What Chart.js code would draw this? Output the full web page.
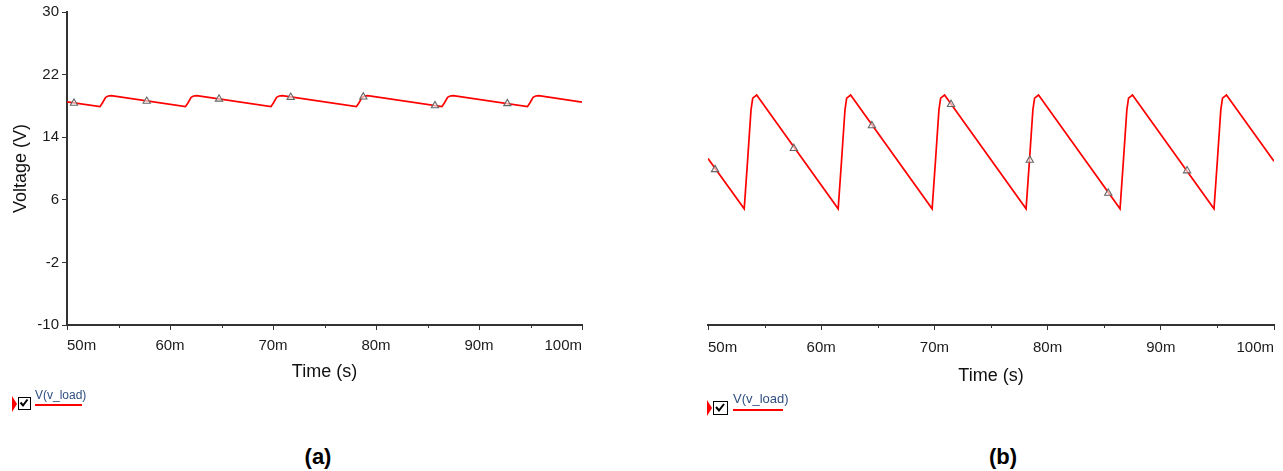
<!DOCTYPE html>
<html>
<head>
<meta charset="utf-8">
<script src="https://cdn.jsdelivr.net/npm/chart.js@4.4.1/dist/chart.umd.min.js"></script>
<style>
  html, body { margin: 0; padding: 0; background: #fff; width: 1283px; height: 471px; overflow: hidden;
    font-family: 'Liberation Sans', Arial, sans-serif; }
  .wrap { position: absolute; top: 0; }
  .mark { position: absolute; width: 0; height: 0; border-top: 8px solid transparent;
    border-bottom: 8px solid transparent; border-left: 5px solid #ff0000; }
  .box { position: absolute; box-sizing: border-box; border: 1.5px solid #000; background: #fff; }
  .box svg { position: absolute; left: 0; top: 0; }
  .ltext { position: absolute; color: #2f4f80; white-space: nowrap; }
  .uline { position: absolute; height: 1.5px; background: #ff0000; }
  .cap { position: absolute; font-weight: bold; font-size: 22px; color: #000; transform: translateX(-50%); }
</style>
</head>
<body>
<div class="wrap" style="left:0;width:640px;height:400px"><canvas id="chartA" width="640" height="400"></canvas></div>
<div class="wrap" style="left:640px;width:643px;height:400px"><canvas id="chartB" width="643" height="400"></canvas></div>

<!-- legend (a) -->
<div class="mark" style="left:12px;top:396px"></div>
<div class="box" style="left:18px;top:397px;width:13px;height:13px">
  <svg width="10" height="10" viewBox="0 0 10 10"><polyline points="1.5,4.5 4,7.5 8.5,1.5" fill="none" stroke="#000" stroke-width="2"/></svg>
</div>
<div class="ltext" style="left:35px;top:388px;font-size:12px">V(v_load)</div>
<div class="uline" style="left:35px;top:404px;width:47px"></div>

<!-- legend (b) -->
<div class="mark" style="left:707px;top:400px"></div>
<div class="box" style="left:713px;top:401px;width:15px;height:14px">
  <svg width="12" height="11" viewBox="0 0 12 11"><polyline points="2,5 5,8.5 10,2" fill="none" stroke="#000" stroke-width="2"/></svg>
</div>
<div class="ltext" style="left:733px;top:391px;font-size:13px">V(v_load)</div>
<div class="uline" style="left:733px;top:409px;width:50px"></div>

<div class="cap" style="left:318px;top:444px">(a)</div>
<div class="cap" style="left:1003px;top:444px">(b)</div>

<script>
// Time axis (ms) and voltage axis ticks
const majorTimes = [50, 60, 70, 80, 90, 100];
const minorTimes = [55, 65, 75, 85, 95];
const voltTicks = [-10, -2, 6, 14, 22, 30];

// (a) load voltage, small ripple
const timeA = [50.0,
  53.2, 53.45, 53.75, 54.0, 54.3,
  61.5, 61.75, 62.05, 62.3, 62.6,
  69.8, 70.05, 70.35, 70.6, 70.9,
  78.1, 78.35, 78.65, 78.9, 79.2,
  86.4, 86.65, 86.95, 87.2, 87.5,
  94.7, 94.95, 95.25, 95.5, 95.8,
  100.0];
const voltA = [18.52,
  17.9, 18.4, 19.1, 19.27, 19.3,
  17.9, 18.4, 19.1, 19.27, 19.3,
  17.9, 18.4, 19.1, 19.27, 19.3,
  17.9, 18.4, 19.1, 19.27, 19.3,
  17.9, 18.4, 19.1, 19.27, 19.3,
  17.9, 18.4, 19.1, 19.27, 19.3,
  18.48];
const markTimeA = [50.68, 57.74, 64.76, 71.72, 78.77, 85.73, 92.75];
const markVoltA = [18.35, 18.6, 18.88, 19.1, 19.15, 18.03, 18.3];

// (b) load voltage, large ripple
const timeB = [50.0,
  53.2, 53.5, 53.8, 53.95, 54.3,
  61.5, 61.8, 62.1, 62.25, 62.6,
  69.8, 70.1, 70.4, 70.55, 70.9,
  78.1, 78.4, 78.7, 78.85, 79.2,
  86.4, 86.7, 87.0, 87.15, 87.5,
  94.7, 95.0, 95.3, 95.45, 95.8,
  100.0];
const voltB = [11.2,
  4.8, 11.0, 17.4, 18.9, 19.3,
  4.8, 11.0, 17.4, 18.9, 19.3,
  4.8, 11.0, 17.4, 18.9, 19.3,
  4.8, 11.0, 17.4, 18.9, 19.3,
  4.8, 11.0, 17.4, 18.9, 19.3,
  4.8, 11.0, 17.4, 18.9, 19.3,
  10.85];
const markTimeB = [50.62, 57.58, 64.48, 71.47, 78.43, 85.36, 92.32];
const markVoltB = [9.8, 12.5, 15.4, 18.1, 11.0, 6.8, 9.65];

const FONT = "'Liberation Sans', Arial, sans-serif";
const AXIS = '#333333';

const zip = (xs, ys) => xs.map((x, i) => ({ x: x, y: ys[i] }));

// short tick marks halfway between the labelled times
const minorTickPlugin = {
  id: 'minorTicks',
  afterDraw(chart) {
    const s = chart.scales.x, ctx = chart.ctx;
    ctx.save();
    ctx.strokeStyle = AXIS;
    ctx.lineWidth = 1;
    minorTimes.forEach(v => {
      const x = Math.round(s.getPixelForValue(v)) + 0.5;
      ctx.beginPath();
      ctx.moveTo(x, s.top);
      ctx.lineTo(x, s.top + 3);
      ctx.stroke();
    });
    ctx.restore();
  }
};

function makeChart(id, times, volts, mTimes, mVolts, opt) {
  return new Chart(document.getElementById(id), {
    type: 'line',
    data: {
      datasets: [
        {
          data: zip(times, volts),
          borderColor: '#ff0000',
          borderWidth: 1.7,
          pointRadius: 0,
          tension: 0,
          fill: false,
          order: 2
        },
        {
          data: zip(mTimes, mVolts),
          showLine: false,
          pointStyle: 'triangle',
          pointRadius: 4.2,
          pointBorderColor: '#666666',
          pointBackgroundColor: 'rgba(255,255,255,0.6)',
          pointBorderWidth: 1.1,
          order: 1
        }
      ]
    },
    options: {
      responsive: false,
      animation: false,
      events: [],
      layout: { padding: opt.padding },
      plugins: { legend: { display: false }, tooltip: { enabled: false } },
      scales: {
        x: {
          type: 'linear',
          min: 50,
          max: 100,
          afterBuildTicks: s => { s.ticks = majorTimes.map(v => ({ value: v })); },
          afterFit: s => { s.height = opt.xHeight; },
          border: { display: true, color: AXIS, width: 2 },
          grid: { display: true, drawOnChartArea: false, drawTicks: true, tickLength: 5, tickColor: AXIS, tickWidth: 1 },
          ticks: {
            autoSkip: false, maxRotation: 0, align: 'inner', padding: opt.xTickPad,
            color: '#1a1a1a', font: { family: FONT, size: 15 },
            callback: v => v + 'm'
          },
          title: {
            display: true, text: 'Time (s)', color: '#111',
            font: { family: FONT, size: 18 }, padding: { top: 0, bottom: 0 }
          }
        },
        y: {
          type: 'linear',
          display: opt.showY,
          min: -10,
          max: 30,
          afterBuildTicks: s => { s.ticks = voltTicks.map(v => ({ value: v })); },
          afterFit: s => { s.width = opt.showY ? 58 : 0; },
          border: { display: true, color: AXIS, width: 2 },
          grid: { display: true, drawOnChartArea: false, drawTicks: true, tickLength: 5, tickColor: AXIS, tickWidth: 1 },
          ticks: { padding: 3, color: '#1a1a1a', font: { family: FONT, size: 15 } },
          title: {
            display: true, text: 'Voltage (V)', color: '#111',
            font: { family: FONT, size: 18 }, padding: { top: 1, bottom: 0 }
          }
        }
      }
    },
    plugins: [minorTickPlugin]
  });
}

makeChart('chartA', timeA, voltA, markTimeA, markVoltA, {
  padding: { left: 9, top: 11, right: 58, bottom: 17 },
  xHeight: 58, xTickPad: 7, showY: true
});
makeChart('chartB', timeB, voltB, markTimeB, markVoltB, {
  padding: { left: 68, top: 11, right: 8, bottom: 13 },
  xHeight: 62, xTickPad: 9, showY: false
});
</script>
</body>
</html>
